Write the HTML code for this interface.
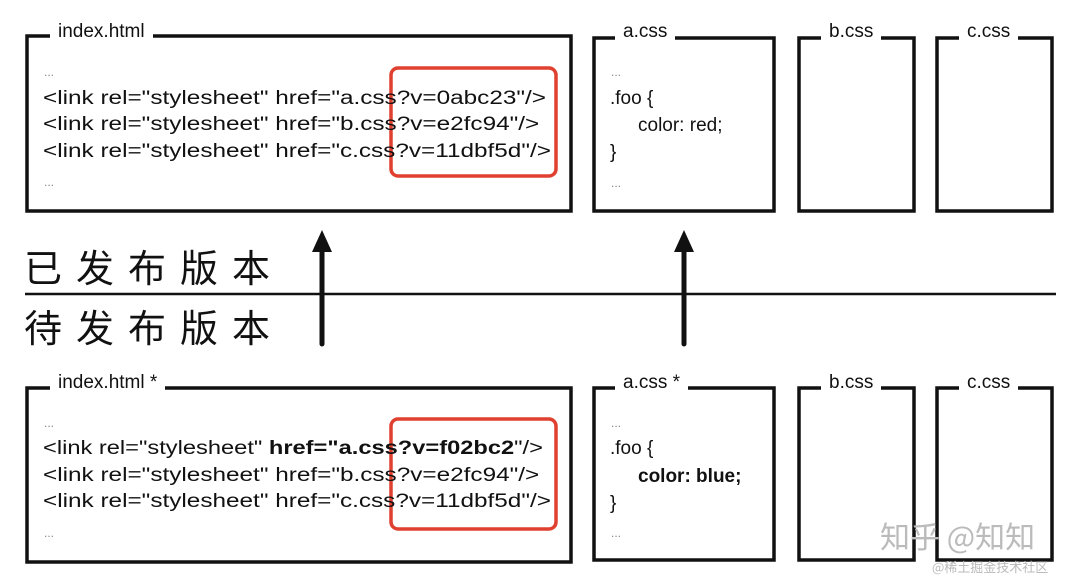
<!DOCTYPE html>
<html><head><meta charset="utf-8"><style>
body{margin:0;width:1080px;height:579px;background:#fff;position:relative;overflow:hidden;font-family:"Liberation Sans","Noto Sans CJK SC",sans-serif;color:#111}
.t{position:absolute;font-size:19px;white-space:nowrap;line-height:1}
.c{transform:scaleX(1.28);transform-origin:0 0}
.s{font-size:12px;color:#888}
.lab{position:absolute;font-size:19px;background:#fff;padding:0 8px;line-height:1;white-space:nowrap}
.cn{position:absolute;left:24px;font-size:38px;letter-spacing:14px;font-family:"Noto Sans CJK SC",sans-serif;line-height:1}
</style></head><body>
<svg width="1080" height="579" style="position:absolute;left:0;top:0">
<g fill="none" stroke="#111" stroke-width="3.5">
<rect x="27" y="36" width="544" height="175"/>
<rect x="594" y="38" width="180" height="173"/>
<rect x="799" y="38" width="115" height="173"/>
<rect x="937" y="38" width="115" height="173"/>
<rect x="27" y="388" width="544" height="174"/>
<rect x="594" y="388" width="180" height="172"/>
<rect x="799" y="388" width="115" height="172"/>
<rect x="937" y="388" width="115" height="172"/>
</g>
<g fill="none" stroke="#e0402f" stroke-width="3.5">
<rect x="391" y="68" width="165" height="108" rx="7"/>
<rect x="391" y="419" width="165" height="110" rx="7"/>
</g>
<line x1="25" y1="294" x2="1056" y2="294" stroke="#111" stroke-width="2.5"/>
<g stroke="#111" stroke-width="5" stroke-linecap="round" fill="#111">
<line x1="322" y1="240" x2="322" y2="344"/>
<line x1="684" y1="240" x2="684" y2="344"/>
</g>
<polygon points="322,230 312,252 332,252" fill="#111"/>
<polygon points="684,230 674,252 694,252" fill="#111"/>
</svg>
<div class="lab" style="left:50px;top:22px">index.html</div>
<div class="lab" style="left:615px;top:22px">a.css</div>
<div class="lab" style="left:821px;top:22px">b.css</div>
<div class="lab" style="left:959px;top:22px">c.css</div>
<div class="lab" style="left:50px;top:373px">index.html *</div>
<div class="lab" style="left:615px;top:373px">a.css *</div>
<div class="lab" style="left:821px;top:373px">b.css</div>
<div class="lab" style="left:959px;top:373px">c.css</div>

<div class="t s" style="left:44px;top:66px">...</div>
<div class="t c" style="left:43px;top:89px">&lt;link rel="stylesheet" href="a.css?v=0abc23"/&gt;</div>
<div class="t c" style="left:43px;top:115px">&lt;link rel="stylesheet" href="b.css?v=e2fc94"/&gt;</div>
<div class="t c" style="left:43px;top:142px">&lt;link rel="stylesheet" href="c.css?v=11dbf5d"/&gt;</div>
<div class="t s" style="left:44px;top:176px">...</div>

<div class="t s" style="left:611px;top:66px">...</div>
<div class="t" style="left:610px;top:89px">.foo {</div>
<div class="t" style="left:638px;top:116px">color: red;</div>
<div class="t" style="left:610px;top:143px">}</div>
<div class="t s" style="left:611px;top:177px">...</div>

<div class="cn" style="top:247px">已发布版本</div>
<div class="cn" style="top:307px">待发布版本</div>

<div class="t s" style="left:44px;top:417px">...</div>
<div class="t c" style="left:43px;top:439px;transform:scaleX(1.245)">&lt;link rel="stylesheet" <b>href="a.css?v=f02bc2</b>"/&gt;</div>
<div class="t c" style="left:43px;top:466px">&lt;link rel="stylesheet" href="b.css?v=e2fc94"/&gt;</div>
<div class="t c" style="left:43px;top:492px">&lt;link rel="stylesheet" href="c.css?v=11dbf5d"/&gt;</div>
<div class="t s" style="left:44px;top:527px">...</div>

<div class="t s" style="left:611px;top:417px">...</div>
<div class="t" style="left:610px;top:439px">.foo {</div>
<div class="t" style="left:638px;top:467px;font-weight:bold">color: blue;</div>
<div class="t" style="left:610px;top:494px">}</div>
<div class="t s" style="left:611px;top:527px">...</div>

<div style="position:absolute;left:880px;top:520px;font-size:30px;color:#bbb;font-family:'Noto Sans CJK SC',sans-serif;line-height:1">知乎 @知知</div>
<div style="position:absolute;left:932px;top:560px;font-size:13px;color:#bbb;font-family:'Noto Sans CJK SC',sans-serif;line-height:1">@稀土掘金技术社区</div>
</body></html>
